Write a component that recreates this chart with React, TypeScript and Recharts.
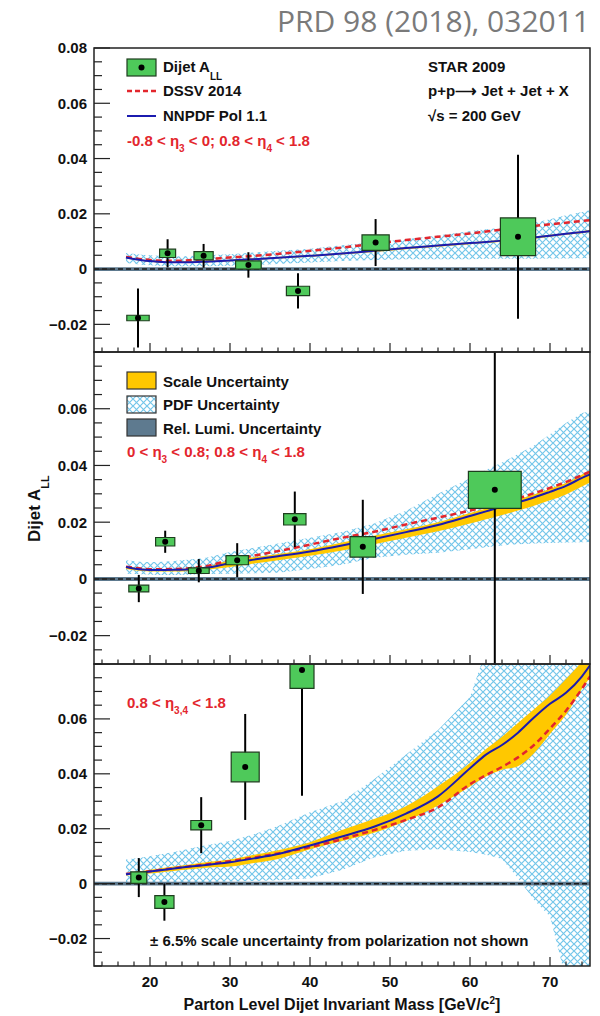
import React from "react";
import { ComposedChart, Line, Area, Scatter, ErrorBar, XAxis, YAxis, ReferenceArea, ReferenceLine } from "recharts";

// theory grid (parton dijet mass, GeV/c^2)
const theoryMass = [17, 19, 21, 23, 25, 27, 30, 33, 36, 40, 44, 48, 52, 56, 60, 62, 64, 66, 68, 70, 72, 74, 75];

// panel 1: -0.8 < eta3 < 0; 0.8 < eta4 < 1.8
const dssv1 = [0.0044, 0.0036, 0.0031, 0.003, 0.0032, 0.0036, 0.0042, 0.0048, 0.0055, 0.0066, 0.0078, 0.0092, 0.0105, 0.0117, 0.0129, 0.0136, 0.0143, 0.015, 0.0156, 0.0162, 0.0168, 0.0174, 0.0177];
const nnpdf1 = [0.0042, 0.0032, 0.0027, 0.0025, 0.0025, 0.0027, 0.0031, 0.0036, 0.0041, 0.0048, 0.0056, 0.0066, 0.0076, 0.0085, 0.0094, 0.0098, 0.0103, 0.0108, 0.0114, 0.0121, 0.0128, 0.0134, 0.0138];
const scaleLo1 = [0.0039, 0.0029, 0.0024, 0.0022, 0.0022, 0.0024, 0.0028, 0.0033, 0.0038, 0.0045, 0.0053, 0.0062, 0.0072, 0.0081, 0.009, 0.0094, 0.0099, 0.0104, 0.011, 0.0117, 0.0124, 0.013, 0.0134];
const scaleHi1 = [0.0045, 0.0035, 0.003, 0.0028, 0.0028, 0.003, 0.0034, 0.0039, 0.0044, 0.0051, 0.0059, 0.0069, 0.0079, 0.0088, 0.0097, 0.0101, 0.0106, 0.0111, 0.0117, 0.0124, 0.0131, 0.0137, 0.0141];
const pdfLo1 = [0.0022, 0.0016, 0.0012, 0.001, 0.001, 0.001, 0.0012, 0.0015, 0.0018, 0.0024, 0.0029, 0.0033, 0.0036, 0.0036, 0.0036, 0.0037, 0.0037, 0.0037, 0.0037, 0.0038, 0.0038, 0.0039, 0.004];
const pdfHi1 = [0.0058, 0.0052, 0.0048, 0.0046, 0.0047, 0.005, 0.0054, 0.006, 0.0066, 0.0074, 0.0086, 0.0097, 0.0108, 0.0122, 0.0138, 0.0144, 0.015, 0.0159, 0.0168, 0.018, 0.0195, 0.0207, 0.0213];
const mass1 = [18.5, 22.2, 26.7, 32.3, 38.5, 48.2, 66.0];
const all1 = [-0.0177, 0.0057, 0.0048, 0.0015, -0.0079, 0.0096, 0.0117];
const stat1 = [0.0107, 0.0051, 0.0043, 0.0046, 0.0064, 0.0085, 0.0297];
const sysX1 = [1.4, 1.0, 1.2, 1.6, 1.45, 1.7, 2.2];
const sysY1 = [0.001, 0.0015, 0.0015, 0.0015, 0.0017, 0.0028, 0.0068];

// panel 2: 0 < eta3 < 0.8; 0.8 < eta4 < 1.8
const dssv2 = [0.0043, 0.0036, 0.0034, 0.0035, 0.0038, 0.0045, 0.0066, 0.0082, 0.0098, 0.0121, 0.0145, 0.0166, 0.0192, 0.0216, 0.0241, 0.0254, 0.0268, 0.0284, 0.0302, 0.0321, 0.0342, 0.0366, 0.0378];
const nnpdf2 = [0.0042, 0.0033, 0.0031, 0.0032, 0.0034, 0.0039, 0.0055, 0.0068, 0.008, 0.0097, 0.0118, 0.0141, 0.0165, 0.019, 0.0222, 0.0238, 0.0255, 0.027, 0.0287, 0.0307, 0.0328, 0.0356, 0.0368];
const scaleLo2 = [0.0035, 0.0028, 0.0026, 0.0026, 0.0028, 0.0032, 0.0042, 0.0054, 0.0066, 0.0082, 0.01, 0.0122, 0.0145, 0.0168, 0.0195, 0.021, 0.0225, 0.0241, 0.0258, 0.0277, 0.0298, 0.0326, 0.034];
const scaleHi2 = [0.0045, 0.0037, 0.0034, 0.0035, 0.0037, 0.0043, 0.0066, 0.0076, 0.0088, 0.0105, 0.0128, 0.0152, 0.0175, 0.02, 0.0232, 0.0248, 0.0264, 0.0281, 0.0298, 0.0318, 0.0338, 0.0368, 0.0382];
const pdfLo2 = [0.0018, 0.0016, 0.0014, 0.0014, 0.0015, 0.0017, 0.0018, 0.002, 0.0022, 0.0035, 0.005, 0.0075, 0.0085, 0.0092, 0.0105, 0.0112, 0.0118, 0.0122, 0.0125, 0.0127, 0.0128, 0.0129, 0.013];
const pdfHi2 = [0.0066, 0.006, 0.006, 0.0063, 0.0068, 0.0075, 0.0095, 0.011, 0.0125, 0.0145, 0.0165, 0.0195, 0.024, 0.03, 0.0355, 0.0385, 0.041, 0.044, 0.047, 0.051, 0.055, 0.0585, 0.059];
const mass2 = [18.6, 21.9, 26.1, 30.9, 38.1, 46.6, 63.1];
const all2 = [-0.0034, 0.0131, 0.0029, 0.0066, 0.021, 0.0113, 0.0314];
const stat2 = [0.0048, 0.0039, 0.0041, 0.006, 0.0098, 0.0166, 0.07];
const sysX2 = [1.25, 1.2, 1.3, 1.4, 1.4, 1.6, 3.3];
const sysY2 = [0.0012, 0.0015, 0.001, 0.0016, 0.002, 0.0036, 0.0065];

// panel 3: 0.8 < eta3,4 < 1.8
const dssv3 = [0.0035, 0.0042, 0.0049, 0.0056, 0.0063, 0.007, 0.0082, 0.0095, 0.011, 0.0133, 0.0162, 0.0195, 0.0232, 0.0278, 0.0362, 0.0395, 0.0425, 0.046, 0.0505, 0.0565, 0.063, 0.071, 0.0755];
const nnpdf3 = [0.0034, 0.0041, 0.0048, 0.0055, 0.0062, 0.0068, 0.0078, 0.0092, 0.0108, 0.0139, 0.0172, 0.0207, 0.0255, 0.0318, 0.042, 0.047, 0.0505, 0.055, 0.0605, 0.0655, 0.0695, 0.0755, 0.0795];
const scaleLo3 = [0.003, 0.0035, 0.004, 0.0046, 0.0052, 0.0058, 0.0062, 0.0075, 0.009, 0.0125, 0.0155, 0.0185, 0.0228, 0.0285, 0.0354, 0.039, 0.0415, 0.0428, 0.0475, 0.0545, 0.0615, 0.071, 0.075];
const scaleHi3 = [0.0038, 0.0046, 0.0054, 0.0062, 0.007, 0.0078, 0.0088, 0.0105, 0.0122, 0.0151, 0.0195, 0.0235, 0.0282, 0.0355, 0.0439, 0.049, 0.0535, 0.0585, 0.0635, 0.0685, 0.0745, 0.081, 0.085];
const pdfLo3 = [0.0004, 0.0004, 0.0005, 0.0005, 0.0006, 0.0006, 0.0008, 0.001, 0.0012, 0.002, 0.005, 0.0095, 0.012, 0.0125, 0.0115, 0.0105, 0.009, 0.002, -0.006, -0.012, -0.035, -0.035, -0.035];
const pdfHi3 = [0.0088, 0.0095, 0.0105, 0.0115, 0.0128, 0.014, 0.0155, 0.018, 0.021, 0.026, 0.03, 0.038, 0.047, 0.056, 0.068, 0.085, 0.09, 0.09, 0.09, 0.09, 0.09, 0.09, 0.09];
const mass3 = [18.6, 21.8, 26.4, 31.9, 39.0];
const all3 = [0.0022, -0.0067, 0.0213, 0.0425, 0.0778];
const stat3 = [0.0071, 0.0068, 0.0102, 0.0193, 0.0458];
const sysX3 = [1.0, 1.2, 1.3, 1.75, 1.5];
const sysY3 = [0.0021, 0.0023, 0.0017, 0.0054, 0.0067];

const relLumi = 0.0007;

// axis ticks
const xTicks = [14, 16, 18, 20, 22, 24, 26, 28, 30, 32, 34, 36, 38, 40, 42, 44, 46, 48, 50, 52, 54, 56, 58, 60, 62, 64, 66, 68, 70, 72, 74];
const yTicks = [-0.03, -0.025, -0.02, -0.015, -0.01, -0.005, 0, 0.005, 0.01, 0.015, 0.02, 0.025, 0.03, 0.035, 0.04, 0.045, 0.05, 0.055, 0.06, 0.065, 0.07, 0.075, 0.08];

const FONT = "'Liberation Sans', Arial, Helvetica, sans-serif";
const RED = "#e3262d";
const BLUE = "#1b1baf";
const GREEN = "#4ec95a";
const YELLOW = "#ffc800";
const LUMI = "#5e7a8f";
const HATCH = "#74c6ea";

const PLOT_LEFT = 94;
const PLOT_RIGHT = 590;
const panelTop = [48, 352, 664];
const panelBottom = [352, 664, 966];
// only the top panel needs room above for its "0.08" label; the others clip at the frame
const panelPad = [12, 0, 0];

const makeRows = (dssv: number[], nnpdf: number[], sLo: number[], sHi: number[], pLo: number[], pHi: number[]) =>
  theoryMass.map((m, i) => ({ m, dssv: dssv[i], nnpdf: nnpdf[i], scale: [sLo[i], sHi[i]], pdf: [pLo[i], pHi[i]] }));

const makePoints = (mass: number[], all: number[], stat: number[], sx: number[], sy: number[]) =>
  mass.map((m, i) => ({ m, a: all[i], err: stat[i], sx: sx[i], sy: sy[i] }));

const panels = [
  { rows: makeRows(dssv1, nnpdf1, scaleLo1, scaleHi1, pdfLo1, pdfHi1), points: makePoints(mass1, all1, stat1, sysX1, sysY1) },
  { rows: makeRows(dssv2, nnpdf2, scaleLo2, scaleHi2, pdfLo2, pdfHi2), points: makePoints(mass2, all2, stat2, sysX2, sysY2) },
  { rows: makeRows(dssv3, nnpdf3, scaleLo3, scaleHi3, pdfLo3, pdfHi3), points: makePoints(mass3, all3, stat3, sysX3, sysY3) },
];

const fmtY = (v: number) => (Math.abs(v) < 1e-9 ? "0" : v < 0 ? "\u2212" + Math.abs(v).toFixed(2) : v.toFixed(2));

function YTick({ x, y, payload, first }: any) {
  const v = payload.value;
  const major = Math.abs(v * 50 - Math.round(v * 50)) < 1e-6;
  const showLabel = major && (first || v < 0.079);
  return (
    <g>
      <line x1={x} x2={x + (major ? 16 : 8)} y1={y} y2={y} stroke="#222" strokeWidth={1.2} />
      {showLabel && (
        <text x={x - 7} y={y} dy="0.36em" textAnchor="end" fontFamily={FONT} fontWeight="bold" fontSize={15} fill="#111">
          {fmtY(v)}
        </text>
      )}
    </g>
  );
}

function XTick({ x, y, payload, labels }: any) {
  const v = payload.value;
  const major = v % 10 === 0;
  return (
    <g>
      <line x1={x} x2={x} y1={y} y2={y - (major ? 9 : 4.5)} stroke="#222" strokeWidth={1.2} />
      {labels && major && (
        <text x={x} y={y + 21} textAnchor="middle" fontFamily={FONT} fontWeight="bold" fontSize={15} fill="#111">
          {v}
        </text>
      )}
    </g>
  );
}

const Dot = (props: any) => <circle cx={props.cx} cy={props.cy} r={3} fill="#000" />;

function Panel({ idx }: { idx: number }) {
  const { rows, points } = panels[idx];
  const last = idx === 2;
  const pad = panelPad[idx];
  const top = panelTop[idx];
  const bottom = panelBottom[idx];
  const xAxisH = last ? 40 : 1;
  const height = pad + (bottom - top) + xAxisH;
  return (
    <div style={{ position: "absolute", left: 0, top: top - pad }}>
      <ComposedChart width={600} height={height} data={rows} margin={{ top: pad, right: 600 - PLOT_RIGHT, bottom: 0, left: 0 }}>
        <XAxis
          type="number"
          dataKey="m"
          domain={[13, 75]}
          ticks={xTicks}
          interval={0}
          allowDataOverflow
          axisLine={false}
          tickLine={false}
          tickSize={0}
          tickMargin={0}
          height={xAxisH}
          tick={(p: any) => <XTick {...p} labels={last} />}
        />
        <YAxis
          type="number"
          domain={[-0.03, 0.08]}
          ticks={yTicks}
          interval={0}
          allowDataOverflow
          axisLine={false}
          tickLine={false}
          tickSize={0}
          tickMargin={0}
          width={PLOT_LEFT}
          tick={(p: any) => <YTick {...p} first={idx === 0} />}
        />
        <Area dataKey="pdf" type="linear" fill="url(#pdfHatch)" fillOpacity={1} stroke="none" isAnimationActive={false} />
        <Area dataKey="scale" type="monotone" fill={YELLOW} fillOpacity={1} stroke="none" isAnimationActive={false} />
        <ReferenceArea y1={-relLumi} y2={relLumi} fill={LUMI} fillOpacity={1} stroke="none" />
        <ReferenceLine y={0} stroke="#1a1a1a" strokeWidth={1.5} strokeDasharray="5 3" />
        <Line dataKey="dssv" type="monotone" stroke={RED} strokeWidth={2.5} strokeDasharray="6 4" dot={false} isAnimationActive={false} />
        <Line dataKey="nnpdf" type="monotone" stroke={BLUE} strokeWidth={2} dot={false} isAnimationActive={false} />
        {points.map((p, i) => (
          <ReferenceArea
            key={i}
            x1={p.m - p.sx}
            x2={p.m + p.sx}
            y1={p.a - p.sy}
            y2={p.a + p.sy}
            fill={GREEN}
            fillOpacity={1}
            stroke="#1e3d1e"
            strokeWidth={1.2}
            ifOverflow="hidden"
            zIndex={450}
          />
        ))}
        <Scatter data={points} dataKey="a" shape={Dot} isAnimationActive={false}>
          <ErrorBar dataKey="err" direction="y" width={0} stroke="#000" strokeWidth={2} />
        </Scatter>
      </ComposedChart>
    </div>
  );
}

const txt = { fontFamily: FONT, fontWeight: "bold" as const, fontSize: 15, fill: "#111" };
const redTxt = { ...txt, fill: RED };

function Overlay() {
  return (
    <svg width={600} height={1016} style={{ position: "absolute", left: 0, top: 0, pointerEvents: "none" }}>
      <text x={590} y={32} textAnchor="end" fontFamily="'Open Sans', sans-serif" fontSize={30} fill="#7a7a7a">
        PRD 98 (2018), 032011
      </text>
      {panelTop.map((t, i) => (
        <rect key={i} x={PLOT_LEFT} y={t} width={PLOT_RIGHT - PLOT_LEFT} height={panelBottom[i] - t} fill="none" stroke="#222" strokeWidth={1.5} />
      ))}

      {/* panel 1 legend */}
      <rect x={127} y={59} width={29} height={17} fill={GREEN} stroke="#1e3d1e" strokeWidth={1.2} />
      <circle cx={141.5} cy={67.5} r={3} fill="#000" />
      <text x={163} y={72} {...txt}>
        Dijet A<tspan dy={8} fontSize={10}>LL</tspan>
      </text>
      <line x1={127} x2={156} y1={91} y2={91} stroke={RED} strokeWidth={2.5} strokeDasharray="5 3" />
      <text x={163} y={96} {...txt}>DSSV 2014</text>
      <line x1={127} x2={156} y1={116} y2={116} stroke={BLUE} strokeWidth={2} />
      <text x={163} y={121} {...txt}>NNPDF Pol 1.1</text>
      <text x={127} y={146} {...redTxt}>
        -0.8 &lt; η<tspan dy={6} fontSize={10}>3</tspan>
        <tspan dy={-6}> &lt; 0; 0.8 &lt; η</tspan>
        <tspan dy={6} fontSize={10}>4</tspan>
        <tspan dy={-6}> &lt; 1.8</tspan>
      </text>
      <text x={428} y={72} {...txt}>STAR 2009</text>
      <text x={428} y={96} {...txt}>p+p{"\u27F6"} Jet + Jet + X</text>
      <text x={428} y={121} {...txt}>√s = 200 GeV</text>

      {/* panel 2 legend */}
      <rect x={127} y={372} width={29} height={17} fill={YELLOW} stroke="#333" strokeWidth={1.2} />
      <text x={163} y={387} {...txt}>Scale Uncertainty</text>
      <rect x={127} y={396} width={29} height={17} fill="url(#pdfHatch)" stroke="#333" strokeWidth={1.2} />
      <text x={163} y={410} {...txt}>PDF Uncertainty</text>
      <rect x={127} y={419} width={29} height={17} fill={LUMI} stroke="#333" strokeWidth={1.2} />
      <text x={163} y={434} {...txt}>Rel. Lumi. Uncertainty</text>
      <text x={127} y={457} {...redTxt}>
        0 &lt; η<tspan dy={6} fontSize={10}>3</tspan>
        <tspan dy={-6}> &lt; 0.8; 0.8 &lt; η</tspan>
        <tspan dy={6} fontSize={10}>4</tspan>
        <tspan dy={-6}> &lt; 1.8</tspan>
      </text>

      {/* panel 3 */}
      <text x={127} y={708} {...redTxt}>
        0.8 &lt; η<tspan dy={6} fontSize={10}>3,4</tspan>
        <tspan dy={-6}> &lt; 1.8</tspan>
      </text>
      <text x={150} y={946} {...txt}>± 6.5% scale uncertainty from polarization not shown</text>

      {/* axis titles */}
      <text x={(PLOT_LEFT + PLOT_RIGHT) / 2} y={1010} textAnchor="middle" {...txt} fontSize={16}>
        Parton Level Dijet Invariant Mass [GeV/c<tspan dy={-6} fontSize={10}>2</tspan>
        <tspan dy={6}>]</tspan>
      </text>
      <g transform="translate(40, 542) rotate(-90)">
        <text x={0} y={0} {...txt} fontSize={17}>
          Dijet A<tspan dy={9} fontSize={11}>LL</tspan>
        </text>
      </g>
    </svg>
  );
}

export default function App() {
  return (
    <div style={{ position: "absolute", left: 0, top: 0, width: 600, height: 1016, background: "#fff" }}>
      <svg width={0} height={0} style={{ position: "absolute" }}>
        <defs>
          <pattern id="pdfHatch" width={7} height={7} patternUnits="userSpaceOnUse">
            <path d="M-1,-1 L8,8 M8,-1 L-1,8" stroke={HATCH} strokeWidth={1.2} />
          </pattern>
        </defs>
      </svg>
      <Panel idx={0} />
      <Panel idx={1} />
      <Panel idx={2} />
      <Overlay />
    </div>
  );
}
